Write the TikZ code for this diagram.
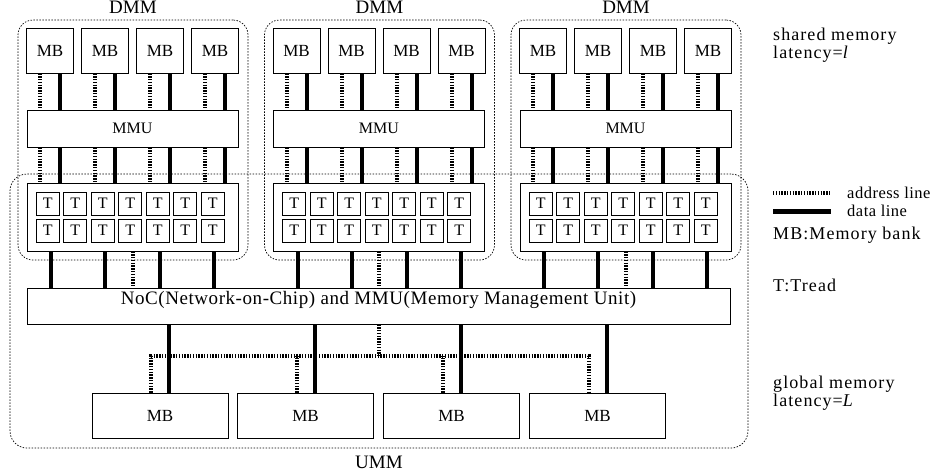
\documentclass[tikz,border=0pt]{standalone}
\usepackage{fontspec}
\setmainfont{Liberation Serif}
\begin{document}
\begin{tikzpicture}[x=1pt,y=-1pt,
  box/.style={draw, line width=0.9pt, fill=white, inner sep=0pt},
  mbbox/.style={box, minimum width=47pt, minimum height=45pt, font=\fontsize{17}{17}\selectfont},
  tcell/.style={box, minimum size=23pt, font=\fontsize{16}{16}\selectfont},
  region/.style={draw, line width=0.7pt, dash pattern=on 1.5pt off 1.5pt, rounded corners=15pt, inner sep=0pt},
  addr/.style={line width=4pt, dash pattern=on 1.4pt off 1.4pt},
  dataln/.style={line width=4pt},
  lbl/.style={font=\fontsize{19}{19}\selectfont, inner sep=0pt},
  leg/.style={font=\fontsize{18}{16}\selectfont\addfontfeature{LetterSpace=6}, inner sep=0pt, align=left},
  legsmall/.style={font=\fontsize{16.5}{16.5}\selectfont\addfontfeature{LetterSpace=3}, inner sep=0pt, anchor=west}
]
\useasboundingbox (0,0) rectangle (935,475);

% UMM region
\node[region, minimum width=738pt, minimum height=274pt, rounded corners=17pt] (umm) at (379,311) {};
\node[lbl] (ummlbl) at ([yshift=-14pt]umm.south) {UMM};

% NoC
\node[box, minimum width=703pt, minimum height=36pt, text height=12pt, text depth=15pt,
      font=\fontsize{19}{19}\selectfont\addfontfeature{LetterSpace=3}] (noc) at (378.5,306)
      {NoC(Network-on-Chip) and MMU(Memory Management Unit)};

\foreach \g/\o in {1/0,2/246.5,3/493}{
  \node[region, minimum width=230pt, minimum height=240pt] (dmm\g) at (133+\o,140) {};
  \node[lbl] (dmmlbl\g) at ([yshift=12pt]dmm\g.north) {DMM};
  \foreach \k in {1,...,4}{
    \node[mbbox] (mb\g\k) at ({50+55*(\k-1)+\o},50.5) {MB};
  }
  \node[box, minimum width=211pt, minimum height=37pt, font=\fontsize{16}{16}\selectfont] (mmu\g) at (132.5+\o,128.5) {MMU};
  \node[box, minimum width=211pt, minimum height=68pt] (tb\g) at (132.5+\o,217) {};
  \foreach \c in {1,...,7}{
    \node[tcell] (ta\g\c) at ({47.7+27.5*(\c-1)+\o},203.5) {T};
    \node[tcell] (tb\g\c) at ({47.7+27.5*(\c-1)+\o},230.5) {T};
  }
  \foreach \k in {1,...,4}{
    \draw[addr] ([xshift=-10pt]mb\g\k.south) -- ([xshift=-10pt]mb\g\k.south |- mmu\g.north);
    \draw[dataln] ([xshift=10pt]mb\g\k.south) -- ([xshift=10pt]mb\g\k.south |- mmu\g.north);
    \draw[addr] ([xshift=-10pt]mb\g\k.south |- mmu\g.south) -- ([xshift=-10pt]mb\g\k.south |- tb\g.north);
    \draw[dataln] ([xshift=10pt]mb\g\k.south |- mmu\g.south) -- ([xshift=10pt]mb\g\k.south |- tb\g.north);
  }
  \foreach \d in {-81.5,-27.5,27.5,81.5}{
    \draw[dataln] ([xshift=\d pt]tb\g.south) -- ([xshift=\d pt]tb\g.south |- noc.north);
  }
  \draw[addr] (tb\g.south) -- (tb\g.south |- noc.north);
}

% global memory banks
\foreach \k/\x in {1/160,2/305.5,3/451.5,4/597.5}{
  \node[box, minimum width=136pt, minimum height=45pt, font=\fontsize{17}{17}\selectfont] (gmb\k) at (\x,415.5) {MB};
  \draw[dataln] ([xshift=9pt]gmb\k.north) -- ([xshift=9pt]gmb\k.north |- noc.south);
}
\coordinate (bus) at (378.5,356);
\draw[addr] (noc.south) -- (noc.south |- bus);
\draw[addr] ([xshift=-9pt]gmb1.north) |- ([xshift=-9pt]gmb4.north |- bus) -- ([xshift=-9pt]gmb4.north);
\draw[addr] ([xshift=-9pt]gmb2.north) -- ([xshift=-9pt]gmb2.north |- bus);
\draw[addr] ([xshift=-9pt]gmb3.north) -- ([xshift=-9pt]gmb3.north |- bus);

% legend
\node[leg, anchor=north west] (sm) at (773,28) {shared memory\\latency=\textit{l}};
\coordinate (la1) at (773,193);
\coordinate (la2) at (831,193);
\draw[addr] (la1) -- (la2);
\node[legsmall] (lal) at (847,193) {address line};
\coordinate (ld1) at (773,211);
\coordinate (ld2) at (831,211);
\draw[dataln, line width=5pt] (ld1) -- (ld2);
\node[legsmall] (ldl) at (847,211) {data line};
\node[leg, anchor=base west] (lmb) at (773,239) {MB:Memory bank};
\node[leg, anchor=base west] (lt) at (773,291) {T:Tread};
\node[leg, anchor=north west] (gm) at (773,376) {global memory\\latency=\textit{L}};
\end{tikzpicture}
\end{document}
